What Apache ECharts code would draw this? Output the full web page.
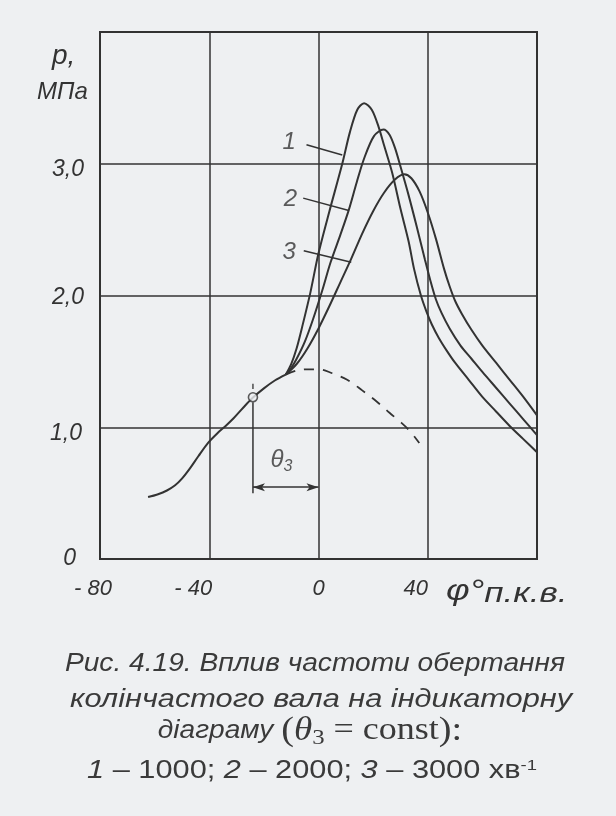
<!DOCTYPE html>
<html>
<head>
<meta charset="utf-8">
<script src="https://cdn.jsdelivr.net/npm/echarts@6/dist/echarts.min.js"></script>
<style>
html,body{margin:0;padding:0;background:#eef0f2;}
#c{width:616px;height:816px;}
</style>
</head>
<body>
<div id="c"></div>
<script>
// ---- axis ticks ----
const xTicks = [-80, -40, 0, 40, 80];
const xTickLabels = ['- 80', '- 40', '0', '40', ''];
const yTicks = [0, 1, 2, 3, 4];
const yTickLabels = ['0', '1,0', '2,0', '3,0', ''];

// ---- compression line (common part) ----
const compAngle = [-62.4, -59, -55.5, -52.5, -50, -47, -44, -40.5, -37, -34, -31, -27.5, -24, -20, -16, -12];
const compP     = [0.47, 0.49, 0.52, 0.56, 0.61, 0.69, 0.78, 0.88, 0.955, 1.01, 1.07, 1.15, 1.225, 1.295, 1.355, 1.40];

// ---- curve 1: 1000 min^-1 ----
const angle1 = [-12, -10, -8, -6, -3, 0, 4, 8.7, 11.5, 14.2, 16.7, 19.5, 22, 24, 27, 30, 33, 35, 37.5, 39.5, 41.5, 44, 47, 50, 55, 60, 65, 70, 75, 80];
const p1     = [1.40, 1.48, 1.60, 1.76, 2.02, 2.32, 2.64, 3.00, 3.24, 3.41, 3.46, 3.41, 3.28, 3.14, 2.93, 2.66, 2.41, 2.20, 2.00, 1.88, 1.78, 1.68, 1.58, 1.49, 1.36, 1.23, 1.12, 1.01, 0.91, 0.81];

// ---- curve 2: 2000 min^-1 ----
const angle2 = [-12, -10, -8, -5, -2, 1.4, 4.4, 8, 11.1, 14, 16.7, 20.3, 23.8, 26, 28, 30, 33, 36, 39, 41, 43, 45, 48, 52, 56, 60, 65, 70, 75, 80];
const p2     = [1.40, 1.45, 1.52, 1.65, 1.82, 2.04, 2.25, 2.46, 2.65, 2.86, 3.04, 3.21, 3.26, 3.22, 3.12, 2.98, 2.76, 2.52, 2.27, 2.11, 1.97, 1.87, 1.75, 1.62, 1.52, 1.42, 1.30, 1.18, 1.06, 0.94];

// ---- curve 3: 3000 min^-1 ----
const angle3 = [-12, -8, -4, 0, 4, 8, 12, 16, 20, 24, 28, 31.4, 34, 37, 40, 43, 46, 48, 50, 52.5, 56, 60, 65, 70, 75, 80];
const p3     = [1.40, 1.48, 1.60, 1.75, 1.92, 2.10, 2.28, 2.47, 2.64, 2.78, 2.88, 2.92, 2.89, 2.79, 2.63, 2.43, 2.20, 2.07, 1.96, 1.86, 1.74, 1.62, 1.49, 1.36, 1.23, 1.09];

// ---- motoring (no combustion) line, dashed ----
const motAngle = [-12, -8, -4, 0, 5, 10.5, 16, 21.6, 26, 30, 33.5, 36.9];
const motP     = [1.40, 1.43, 1.44, 1.44, 1.41, 1.36, 1.28, 1.19, 1.11, 1.04, 0.97, 0.88];

// ---- ignition point and θ3 dimension ----
const ignitionAngle = -24;
const ignitionP = 1.228;
const thetaLineTop = 1.19;
const thetaLineBottom = 0.50;
const tickAbove = [1.29, 1.33];
const dimArrowP = 0.545;
const dimArrowEnd = 0;
const thetaLabelPos = [-13.6, 0.75];

// ---- curve number labels and leaders ----
const curveNames = ['1', '2', '3'];
const curveLabelX = [-10.7, -10.3, -10.7];
const curveLabelY = [3.163, 2.729, 2.325];
const leaderStartX = [-4.4, -5.6, -5.4];
const leaderStartY = [3.144, 2.739, 2.339];
const leaderEndX = [8.7, 11.1, 12.0];
const leaderEndY = [3.067, 2.645, 2.253];

// ---- texts ----
const yAxisName1 = 'p,';
const yAxisName2 = 'МПа';
const xAxisName = 'φ°';
const xAxisSub = 'п.к.в.';
const captionLines = [
  'Рис. 4.19. Вплив частоти обертання',
  'колінчастого вала на індикаторну',
  'діаграму'
];

const INK = '#333333';
const CAP = '#3a3a3a';
const zip = (xs, ys) => xs.map((x, i) => [x, ys[i]]);

const chart = echarts.init(document.getElementById('c'), null, {renderer: 'canvas'});

const curveSeries = [[angle1, p1], [angle2, p2], [angle3, p3]].map(([a, p]) => ({
  type: 'line', data: zip(a, p), smooth: 0.3, showSymbol: false, silent: true,
  lineStyle: {color: INK, width: 2}, z: 3
}));

const leaderSeries = curveNames.map((n, i) => ({
  type: 'line', data: [[leaderStartX[i], leaderStartY[i]], [leaderEndX[i], leaderEndY[i]]],
  showSymbol: false, silent: true, lineStyle: {color: INK, width: 1.5}, z: 3
}));

const labelFont = '"Liberation Sans", "DejaVu Sans", sans-serif';
const tickStyle = (extra) => Object.assign({fontSize: 22, fontStyle: 'italic', fontFamily: labelFont, color: INK}, extra || {});

const option = {
  animation: false,
  backgroundColor: '#eef0f2',
  grid: {left: 100, right: 79, top: 32, bottom: 257, show: true, borderColor: INK, borderWidth: 2, backgroundColor: 'transparent'},
  xAxis: {
    type: 'value', min: -80, max: 80, interval: 40,
    axisLine: {show: false}, axisTick: {show: false},
    splitLine: {show: true, lineStyle: {color: INK, width: 1.5}},
    axisLabel: {
      margin: 19, color: INK, fontSize: 22, fontStyle: 'italic', fontFamily: labelFont,
      formatter: v => { const i = xTicks.indexOf(v); return i < 0 ? '' : '{x' + i + '|' + xTickLabels[i] + '}'; },
      rich: {
        x0: tickStyle({padding: [0, 14, 0, 0]}),
        x1: tickStyle({padding: [0, 32, 0, 0]}),
        x2: tickStyle(),
        x3: tickStyle({padding: [0, 24, 0, 0]}),
        x4: tickStyle()
      }
    }
  },
  yAxis: {
    type: 'value', min: 0, max: 4, interval: 1,
    axisLine: {show: false}, axisTick: {show: false},
    splitLine: {show: true, lineStyle: {color: INK, width: 1.5}},
    axisLabel: {
      margin: 16, color: INK, fontSize: 23, fontStyle: 'italic', fontFamily: labelFont,
      formatter: v => { const i = yTicks.indexOf(v); return i < 0 ? '' : '{y' + i + '|' + yTickLabels[i] + '}'; },
      rich: {
        y0: tickStyle({fontSize: 23, padding: [0, 8, 0, 0]}),
        y1: tickStyle({fontSize: 23, padding: [12, 2, 0, 0]}),
        y2: tickStyle({fontSize: 23, padding: [4, 0, 0, 0]}),
        y3: tickStyle({fontSize: 23, padding: [12, 0, 0, 0]}),
        y4: tickStyle({fontSize: 23})
      }
    }
  },
  series: [
    {type: 'line', data: zip(compAngle, compP), smooth: 0.3, showSymbol: false, silent: true, lineStyle: {color: INK, width: 2}, z: 3},
    ...curveSeries,
    {type: 'line', data: zip(motAngle, motP), smooth: 0.35, showSymbol: false, silent: true,
     lineStyle: {color: INK, width: 1.8, type: [10, 9]}, z: 3},
    {type: 'line', data: [[ignitionAngle, thetaLineTop], [ignitionAngle, thetaLineBottom]], showSymbol: false, silent: true,
     lineStyle: {color: INK, width: 1.5}, z: 3,
     markLine: {silent: true, symbol: ['arrow', 'arrow'], symbolSize: [6, 12], label: {show: false},
       lineStyle: {type: 'solid', color: INK, width: 1.5},
       data: [[{coord: [ignitionAngle, dimArrowP]}, {coord: [dimArrowEnd, dimArrowP]}]]}},
    {type: 'line', data: [[ignitionAngle, tickAbove[0]], [ignitionAngle, tickAbove[1]]], showSymbol: false, silent: true,
     lineStyle: {color: INK, width: 1.3}, z: 3},
    ...leaderSeries,
    {type: 'scatter', data: [[ignitionAngle, ignitionP]], symbol: 'circle', symbolSize: 9, silent: true, z: 5,
     itemStyle: {color: '#eef0f2', borderColor: INK, borderWidth: 1.6}},
    {type: 'scatter', data: curveNames.map((n, i) => ({value: [curveLabelX[i], curveLabelY[i]], name: n})),
     symbolSize: 1, itemStyle: {color: 'transparent'}, silent: true, z: 5,
     label: {show: true, position: 'inside', formatter: p => p.name, color: INK, fontSize: 24, fontStyle: 'italic', fontFamily: labelFont}},
    {type: 'scatter', data: [thetaLabelPos], symbolSize: 1, itemStyle: {color: 'transparent'}, silent: true, z: 5,
     label: {show: true, position: 'inside', formatter: '{t|θ}{s|3}',
       rich: {t: {fontSize: 24, fontStyle: 'italic', fontFamily: labelFont, color: INK, lineHeight: 28},
              s: {fontSize: 16, fontStyle: 'italic', fontFamily: labelFont, color: INK, verticalAlign: 'bottom', lineHeight: 14}}}}
  ],
  graphic: [
    {type: 'text', x: 52, y: 42, style: {text: yAxisName1, font: 'italic 28px ' + labelFont, fill: INK}},
    {type: 'text', x: 37, y: 80, style: {text: yAxisName2, font: 'italic 24px ' + labelFont, fill: INK}},
    {type: 'text', x: 446, y: 576, scaleX: 1.25, style: {text: '{a|' + xAxisName + '}{b|' + xAxisSub + '}', fill: INK,
      rich: {a: {fontSize: 29, fontStyle: 'italic', fontFamily: labelFont, fill: INK, lineHeight: 32},
             b: {fontSize: 28, fontStyle: 'italic', fontFamily: labelFont, fill: INK, verticalAlign: 'bottom', lineHeight: 26}}}},
    {type: 'text', x: 315, y: 664, scaleX: 1.125, style: {text: captionLines[0], font: 'italic 25px "Liberation Sans"', fill: CAP, align: 'center', verticalAlign: 'middle'}},
    {type: 'text', x: 321, y: 700, scaleX: 1.23, style: {text: captionLines[1], font: 'italic 25px "Liberation Sans"', fill: CAP, align: 'center', verticalAlign: 'middle'}},
    {type: 'text', x: 310, y: 731, scaleX: 1.125, style: {
      text: '{i|' + captionLines[2] + ' }{p|(}{t|θ}{s|3}{c| = const}{p|):}', align: 'center', verticalAlign: 'middle', fill: CAP,
      rich: {
        i: {fontSize: 25, fontStyle: 'italic', fontFamily: 'Liberation Sans', fill: CAP, lineHeight: 36},
        p: {fontSize: 34, fontFamily: 'Liberation Serif', fill: CAP, lineHeight: 36},
        t: {fontSize: 33, fontStyle: 'italic', fontFamily: 'Liberation Serif', fill: CAP, lineHeight: 36},
        c: {fontSize: 32, fontFamily: 'Liberation Serif', fill: CAP, lineHeight: 36},
        s: {fontSize: 22, fontFamily: 'Liberation Serif', fill: CAP, verticalAlign: 'bottom', lineHeight: 26}
      }}},
    {type: 'text', x: 312, y: 771, scaleX: 1.23, style: {
      text: '{n|1} – 1000; {n|2} – 2000; {n|3} – 3000 хв{u|-1}', align: 'center', verticalAlign: 'middle',
      font: '25px "Liberation Sans"', fill: CAP,
      rich: {
        n: {fontSize: 25, fontStyle: 'italic', fontFamily: 'Liberation Sans', fill: CAP},
        u: {fontSize: 15, fontFamily: 'Liberation Sans', fill: CAP, verticalAlign: 'top'}
      }}}
  ]
};
chart.setOption(option);
</script>
</body>
</html>
